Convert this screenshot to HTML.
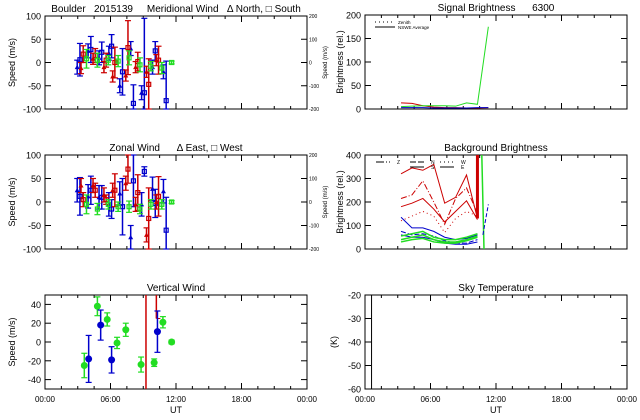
<!DOCTYPE html>
<html><head><meta charset="utf-8"><style>
html,body{margin:0;padding:0;background:#fff;}
svg{display:block;font-family:"Liberation Sans",sans-serif;}
text{white-space:pre;}
</style></head><body>
<svg id="c" width="640" height="420" viewBox="0 0 640 420"></svg>
<script>
// ---- data ----
const merHours=[3.2,4.2,5.2,6.1,7.1,8.1,9.1,10.1,11.1];
const merBlue=[6,28,22,35,-20,-88,-65,25,-82];
const merBlueErr=[35,28,22,25,50,40,160,20,85];
const merRedHours=[3.5,4.6,5.6,6.4,7.6,8.5,9.5,10.4];
const merRed=[18,15,5,0,32,2,-47,5];
const merRedErr=[18,15,15,33,58,20,55,30];
const merGreenHours=[3.8,4.8,5.8,6.7,7.7,8.7,9.7,10.7,11.6];
const merGreen=[8,5,5,3,10,-5,-8,-12,0];
const merGreenErr=[20,15,10,12,15,15,10,12,3];
const merTriBlue=[-10,25,10,20,-50,30,-65,-10,-20];
const merTriRed=[-12,8,-10,-30,-28,-10,-20,5];

const zonHours=[3.2,4.2,5.2,6.1,7.1,8.1,9.1,10.1,11.1];
const zonBlue=[12,25,10,-15,-10,45,65,-3,-60];
const zonBlueErr=[40,30,25,20,60,55,10,30,70];
const zonRedHours=[3.5,4.6,5.6,6.4,7.6,8.5,9.5,10.4];
const zonRed=[5,25,5,25,70,20,-35,12];
const zonRedErr=[15,15,10,35,30,38,65,42];
const zonGreenHours=[3.8,4.8,5.8,6.7,7.7,8.7,9.7,10.7,11.6];
const zonGreen=[-5,-15,-5,-10,-10,-15,-5,-5,0];
const zonGreenErr=[20,12,10,10,12,10,10,10,3];
const zonTriBlue=[25,12,10,-5,18,-75,-5,28,23];
const zonTriRed=[35,35,15,25,40,-5,-70,0];

const vHours=[3.6,4.8,5.7,6.6,7.4,8.8,10.0,10.8,11.6];
const vGreen=[-25,38,24,-1,13,-24,-22,21,0];
const vGreenErr=[13,10,7,6,7,8,4,6,2];
const vBlueHours=[4.0,5.1,6.1,10.3];
const vBlue=[-18,18,-19,11];
const vBlueErr=[25,16,14,22];
const vRedLines=[9.25,10.2];

const sigHours=[3.3,4.3,5.3,6.3,7.3,8.3,9.3,10.3,11.3];
const sigGreen=[5,6,7,7,7,6,13,10,175];
const sigRed=[13,12,7,4,3,3,2,2,3];
const sigBlue=[3,3,3,2,2,2,2,3,3];

const bgHours=[3.3,4.3,5.3,6.3,7.3,8.3,9.3,10.3];
const bgRed1=[320,345,335,360,195,220,315,130];
const bgRed2=[215,230,290,200,105,215,260,150];
const bgRed3=[180,195,215,170,115,160,205,125];
const bgRed4=[120,140,160,140,70,130,160,140];
const bgBlue1=[135,90,90,75,50,40,45,60];
const bgBlue2=[75,60,65,55,35,25,25,40];
const bgBlue3=[60,50,50,40,25,20,20,30];
const bgGreen1=[55,65,75,50,40,40,50,65];
const bgGreen2=[40,50,60,40,30,30,40,55];
const bgGreen3=[30,40,45,30,25,25,35,50];

const skyLineHour=0.6;

const xTicks=["00:00","06:00","12:00","18:00","00:00"];
const tempTicks=[-20,-30,-40,-50,-60];

// ---- drawing ----
const S=document.getElementById('c');
const NS='http://www.w3.org/2000/svg';
function el(t,a,p){const e=document.createElementNS(NS,t);for(const k in a)e.setAttribute(k,a[k]);(p||S).appendChild(e);return e;}
function txt(x,y,s,size,anchor,rot,name,p){const e=el('text',{x:x,y:y,'font-size':size,'text-anchor':anchor||'middle',fill:'#000'},p);e.setAttributeNS('http://www.w3.org/XML/1998/namespace','xml:space','preserve');if(rot)e.setAttribute('transform','rotate(-90 '+x+' '+y+')');e.textContent=s;return e;}
const BLUE='#0000cc',RED='#cc0000',GREEN='#22dd22';

function panel(name,x0,x1,y0,y1,ymin,ymax,yticks,title,ylabel,showX,ylabX){
  const g=el('g',{});
  
  
  const sx=h=>x0+h/24*(x1-x0);
  const sy=v=>y1-(v-ymin)/(ymax-ymin)*(y1-y0);
  el('rect',{x:x0,y:y0,width:x1-x0,height:y1-y0,fill:'none',stroke:'#000','stroke-width':1},g);
  for(let h=0;h<=24;h+=1.5){const X=sx(h),L=(h%6===0)?6:3;
    el('line',{x1:X,y1:y1,x2:X,y2:y1-L,stroke:'#000'},g);el('line',{x1:X,y1:y0,x2:X,y2:y0+L,stroke:'#000'},g);}
  yticks.forEach(v=>{const Y=sy(v);el('line',{x1:x0,y1:Y,x2:x0+6,y2:Y,stroke:'#000'},g);el('line',{x1:x1,y1:Y,x2:x1-6,y2:Y,stroke:'#000'},g);
    txt(x0-4,Y+3.5,String(v),9,'end',false,'y-tick-label',g);});
  txt((x0+x1)/2,y0-4,title,10,'middle',false,'panel-title',g);
  txt(ylabX,(y0+y1)/2,ylabel,9,'middle',true,'y-axis-title',g);
  if(showX){xTicks.forEach((s,i)=>txt(sx(i*6),y1+13,s,8,'middle',false,'x-tick-label',g));
    txt((x0+x1)/2,y1+24,'UT',9,'middle',false,'x-axis-title',g);}
  return {g,sx,sy,x0,x1,y0,y1};
}
function clipY(P,v){return Math.max(P.y0,Math.min(P.y1,v));}
function errPt(P,h,v,e,col,marker,name){
  const X=P.sx(h);const a=clipY(P,P.sy(v+e)),b=clipY(P,P.sy(v-e));
  const g=el('g',{},P.g);
  
  
  el('line',{x1:X,y1:a,x2:X,y2:b,stroke:col,'stroke-width':1.5},g);
  el('line',{x1:X-3,y1:a,x2:X+3,y2:a,stroke:col,'stroke-width':1.2},g);
  el('line',{x1:X-3,y1:b,x2:X+3,y2:b,stroke:col,'stroke-width':1.2},g);
  const Y=P.sy(v);
  if(Y>=P.y0&&Y<=P.y1){
    if(marker==='sq')el('rect',{x:X-2,y:Y-2,width:4,height:4,fill:'none',stroke:col,'stroke-width':1.2},g);
    else if(marker==='tri')el('polygon',{points:(X)+','+(Y-2.5)+' '+(X-2.5)+','+(Y+2)+' '+(X+2.5)+','+(Y+2),fill:col},g);
    else el('circle',{cx:X,cy:Y,r:3.5,fill:col},g);
  }
}
function rightAxis(P){
  [200,100,0,-100,-200].forEach((v,i)=>{const Y=P.y0+i*(P.y1-P.y0)/4;txt(P.x1+2,Y+2,String(v),5,'start',false,'right-tick-label',P.g);});
  txt(P.x1+20,(P.y0+P.y1)/2,'Speed (m/s)',6,'middle',true,'right-axis-title',P.g);
}
function line(P,hs,vs,col,dash,name,w){
  const pts=hs.map((h,i)=>P.sx(h)+','+P.sy(vs[i])).join(' ');
  const l=el('polyline',{points:pts,fill:'none',stroke:col,'stroke-width':w||1},P.g);
  if(dash)l.setAttribute('stroke-dasharray',dash);
  
  
}

// Meridional
const P1=panel('meridional-wind-panel',45,307,16,109,-100,100,[100,50,0,-50,-100],'Boulder   2015139     Meridional Wind   \u0394 North, \u25A1 South','Speed (m/s)',false,15);
rightAxis(P1);
merHours.forEach((h,i)=>errPt(P1,h,merBlue[i],merBlueErr[i],BLUE,'sq','mer-blue-point'));
merHours.forEach((h,i)=>errPt(P1,h-0.25,merTriBlue[i],15,BLUE,'tri','mer-blue-tri'));
merRedHours.forEach((h,i)=>errPt(P1,h,merRed[i],merRedErr[i],RED,'sq','mer-red-point'));
merRedHours.forEach((h,i)=>errPt(P1,h-0.2,merTriRed[i],12,RED,'tri','mer-red-tri'));
merGreenHours.forEach((h,i)=>errPt(P1,h,merGreen[i],merGreenErr[i],GREEN,'sq','mer-green-point'));

// Zonal
const P2=panel('zonal-wind-panel',45,307,155,249,-100,100,[100,50,0,-50,-100],'Zonal Wind      \u0394 East, \u25A1 West','Speed (m/s)',false,15);
rightAxis(P2);
zonHours.forEach((h,i)=>errPt(P2,h,zonBlue[i],zonBlueErr[i],BLUE,'sq','zon-blue-point'));
zonHours.forEach((h,i)=>errPt(P2,h-0.25,zonTriBlue[i],25,BLUE,'tri','zon-blue-tri'));
zonRedHours.forEach((h,i)=>errPt(P2,h,zonRed[i],zonRedErr[i],RED,'sq','zon-red-point'));
zonRedHours.forEach((h,i)=>errPt(P2,h-0.2,zonTriRed[i],15,RED,'tri','zon-red-tri'));
zonGreenHours.forEach((h,i)=>errPt(P2,h,zonGreen[i],zonGreenErr[i],GREEN,'sq','zon-green-point'));

// Vertical
const P3=panel('vertical-wind-panel',45,307,295,389,-50,50,[40,20,0,-20,-40],'Vertical Wind','Speed (m/s)',true,15);
vRedLines.forEach((h,i)=>{const X=P3.sx(h);const l=el('line',{x1:X,y1:P3.y0,x2:X,y2:i===0?P3.y1:P3.sy(25),stroke:RED,'stroke-width':1.5},P3.g);
  });
el('line',{x1:P3.sx(vRedLines[1]),y1:P3.sy(25),x2:P3.sx(vRedLines[1])+4,y2:P3.sy(25),stroke:RED},P3.g);
vHours.forEach((h,i)=>errPt(P3,h,vGreen[i],vGreenErr[i],GREEN,'dot','vert-green-point'));
vBlueHours.forEach((h,i)=>errPt(P3,h,vBlue[i],vBlueErr[i],BLUE,'dot','vert-blue-point'));

// Signal brightness
const P4=panel('signal-brightness-panel',365,627,15,109,0,200,[200,150,100,50,0],'Signal Brightness      6300','Brightness (rel.)',false,343);
line(P4,sigHours,sigRed,RED,null,'signal-red-line');
line(P4,sigHours,sigBlue,BLUE,null,'signal-blue-line');
line(P4,sigHours,sigGreen,GREEN,null,'signal-green-line');
el('line',{x1:375,y1:22,x2:395,y2:22,stroke:'#000','stroke-dasharray':'1 3'},P4.g);
txt(398,24,'Zenith',4.5,'start',false,'legend-zenith',P4.g);
el('line',{x1:375,y1:27,x2:395,y2:27,stroke:'#000'},P4.g);
txt(398,29,'NSWE Average',4.5,'start',false,'legend-nswe-average',P4.g);

// Background brightness
const P5=panel('background-brightness-panel',365,627,155,249,0,400,[400,300,200,100,0],'Background Brightness','Brightness (rel.)',false,343);
line(P5,bgHours,bgRed1,RED,null,'bg-red-line-1');
line(P5,bgHours,bgRed2,RED,'6 2 1 2','bg-red-line-2');
line(P5,bgHours,bgRed3,RED,null,'bg-red-line-3');
line(P5,bgHours,bgRed4,RED,'1 3','bg-red-line-4');
line(P5,bgHours,bgBlue1,BLUE,null,'bg-blue-line-1');
line(P5,bgHours,bgBlue2,BLUE,'5 2','bg-blue-line-2');
line(P5,bgHours,bgBlue3,BLUE,null,'bg-blue-line-3');
line(P5,bgHours,bgGreen1,GREEN,null,'bg-green-line-1',1.5);
line(P5,bgHours,bgGreen2,GREEN,null,'bg-green-line-2',1.5);
line(P5,bgHours,bgGreen3,GREEN,null,'bg-green-line-3',1.5);
el('line',{x1:P5.sx(10.3),y1:P5.y0,x2:P5.sx(10.3),y2:P5.sy(130),stroke:RED,'stroke-width':3},P5.g);
el('line',{x1:P5.sx(10.7),y1:P5.y0,x2:P5.sx(10.9),y2:P5.y1,stroke:GREEN,'stroke-width':1.5},P5.g);
el('line',{x1:P5.sx(10.8),y1:P5.sy(60),x2:P5.sx(11.3),y2:P5.sy(190),stroke:BLUE,'stroke-dasharray':'4 2'},P5.g);
[['Z',376,'8 2 1 2'],['N',410,'6 2'],['S',410,null],['W',440,'1 3'],['E',440,null]].forEach((d,i)=>{
  const Y=(d[0]==='S'||d[0]==='E')?167:162;
  const l=el('line',{x1:d[1],y1:Y,x2:d[1]+14,y2:Y,stroke:'#000'},P5.g);if(d[2])l.setAttribute('stroke-dasharray',d[2]);
  txt(d[1]+21,Y+2,d[0],5,'start',false,'legend-'+d[0].toLowerCase(),P5.g);});

// Sky temperature
const P6=panel('sky-temperature-panel',365,627,295,389,-60,-20,tempTicks,'Sky Temperature','(K)',true,337);
const sl=el('line',{x1:P6.sx(skyLineHour),y1:P6.y0,x2:P6.sx(skyLineHour),y2:P6.y1,stroke:'#000'},P6.g);

</script>
</body></html>
